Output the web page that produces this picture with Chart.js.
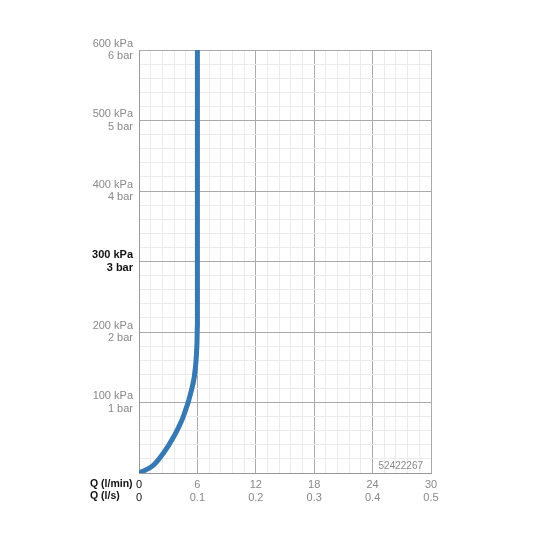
<!DOCTYPE html>
<html>
<head>
<meta charset="utf-8">
<script src="https://cdn.jsdelivr.net/npm/chart.js@4/dist/chart.umd.min.js"></script>
<style>
  body { margin: 0; background: #fff; }
  #wrap { width: 536px; height: 536px; }
</style>
</head>
<body>
<div id="wrap"><canvas id="myChart" width="536" height="536"></canvas></div>
<script>
// flow in l/min vs pressure in kPa
const flowLmin = [0, 1.4, 2.5, 3.55, 4.55, 5.4, 5.8, 5.96, 6.0, 6.0];
const pressureKpa = [0, 10, 28, 51, 80, 118, 150, 186, 210, 600];

const xTicksLmin = ['0', '6', '12', '18', '24', '30'];
const xTicksLs = ['0', '0.1', '0.2', '0.3', '0.4', '0.5'];
const yTicksKpa = ['0', '100 kPa', '200 kPa', '300 kPa', '400 kPa', '500 kPa', '600 kPa'];
const yTicksBar = ['', '1 bar', '2 bar', '3 bar', '4 bar', '5 bar', '6 bar'];
const artNo = '52422267';

const fontFam = "'Liberation Sans', Arial, sans-serif";

var isMajor = function (v, step) {
    return Math.abs(v / step - Math.round(v / step)) < 1e-6;
}

const points = flowLmin.map((x, i) => ({ x: x, y: pressureKpa[i] }));

const extras = {
    id: 'extras',
    afterDraw(chart) {
        const c = chart.ctx;
        const a = chart.chartArea;
        c.save();
        c.fillStyle = '#111';
        c.font = 'bold 10.5px ' + fontFam;
        c.textAlign = 'left';
        c.textBaseline = 'middle';
        c.fillText('Q (l/min)', 90, 484.5);
        c.fillText('Q (l/s)', 90, 496);
        c.fillStyle = '#888';
        c.font = '10px ' + fontFam;
        c.textAlign = 'right';
        c.textBaseline = 'alphabetic';
        c.fillText(artNo, a.right - 8, a.bottom - 4);
        c.restore();
    }
};

const ctx = document.getElementById('myChart');
const myChart = new Chart(ctx, {
    type: 'scatter',
    data: {
        datasets: [{
            data: points,
            showLine: true,
            borderColor: '#3779b3',
            borderWidth: 5,
            pointRadius: 0,
            cubicInterpolationMode: 'monotone',
            borderCapStyle: 'butt'
        }]
    },
    options: {
        responsive: false,
        animation: false,
        layout: {
            padding: { top: 50, right: 105, left: 0, bottom: 20 }
        },
        plugins: {
            legend: { display: false },
            tooltip: { enabled: false }
        },
        scales: {
            x: {
                type: 'linear',
                min: 0,
                max: 30,
                afterFit: function (s) { s.height = 43; },
                border: { color: '#999', width: 1 },
                grid: {
                    drawTicks: false,
                    color: function (c) {
                        return isMajor(c.tick.value, 6) ? '#aaa' : '#ebebeb';
                    }
                },
                ticks: {
                    stepSize: 1.2,
                    autoSkip: false,
                    maxRotation: 0,
                    padding: 5,
                    font: { family: fontFam, size: 11 },
                    color: function (c) {
                        return c.tick.value === 0 ? '#111' : '#888';
                    },
                    callback: function (v) {
                        if (!isMajor(v, 6)) return '';
                        const i = Math.round(v / 6);
                        return [xTicksLmin[i], xTicksLs[i]];
                    }
                }
            },
            y: {
                type: 'linear',
                min: 0,
                max: 600,
                afterFit: function (s) { s.width = 139; },
                border: { color: '#999', width: 1 },
                grid: {
                    drawTicks: false,
                    color: function (c) {
                        return isMajor(c.tick.value, 100) ? '#aaa' : '#ebebeb';
                    }
                },
                ticks: {
                    stepSize: 20,
                    autoSkip: false,
                    padding: 6,
                    font: function (c) {
                        const v = c.tick ? c.tick.value : 0;
                        return { family: fontFam, size: 11, weight: v === 300 ? 'bold' : 'normal', lineHeight: 1.1 };
                    },
                    color: function (c) {
                        return c.tick.value === 300 ? '#111' : '#888';
                    },
                    callback: function (v) {
                        if (!isMajor(v, 100) || v === 0) return '';
                        const i = Math.round(v / 100);
                        return [yTicksKpa[i], yTicksBar[i]];
                    }
                }
            }
        }
    },
    plugins: [extras]
});
</script>
</body>
</html>
